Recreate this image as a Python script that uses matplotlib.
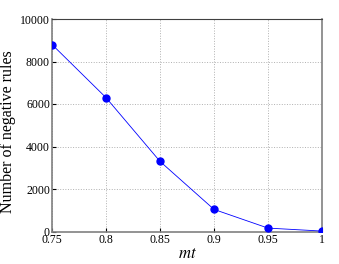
import matplotlib
matplotlib.use("Agg")
import matplotlib.pyplot as plt

# valeurs
mt = [0.75, 0.8, 0.85, 0.9, 0.95, 1.0]
negative_rules = [8800, 6300, 3300, 1040, 160, 20]
x_ticks = [0.75, 0.8, 0.85, 0.9, 0.95, 1.0]
x_labels = ["0.75", "0.8", "0.85", "0.9", "0.95", "1"]
y_ticks = [0, 2000, 4000, 6000, 8000, 10000]

plt.rcParams['font.family'] = ['Liberation Serif', 'DejaVu Serif']
plt.rcParams['mathtext.fontset'] = 'stix'

fig = plt.figure(figsize=(3.39, 2.64), dpi=100)
ax = fig.add_axes([52 / 339, 1 - 231.5 / 264, 270 / 339, 212.5 / 264])

ax.plot(mt, negative_rules, color='blue', linewidth=0.6, marker='o',
        markersize=5, markerfacecolor='blue', markeredgecolor='blue', zorder=3)

ax.set_xlim(0.75, 1.0)
ax.set_ylim(0, 10000)
ax.set_xticks(x_ticks)
ax.set_xticklabels(x_labels)
ax.set_yticks(y_ticks)
ax.tick_params(direction='in', length=3, labelsize=8.5, pad=1.5, colors='black')
ax.grid(True, linestyle=':', color='#b0b0b0', linewidth=0.7)

for side in ['left', 'bottom', 'right']:
    ax.spines[side].set_color('#808080')
    ax.spines[side].set_linewidth(1.2)
ax.spines['top'].set_color('#404040')
ax.spines['top'].set_linewidth(0.8)

ax.set_xlabel(r"$mt$", fontsize=12, labelpad=0)
ax.set_ylabel("Number of negative rules", fontsize=11.5)
ax.yaxis.set_label_coords(-36 / 270, 0.47)

fig.savefig("out.png", dpi=100)
